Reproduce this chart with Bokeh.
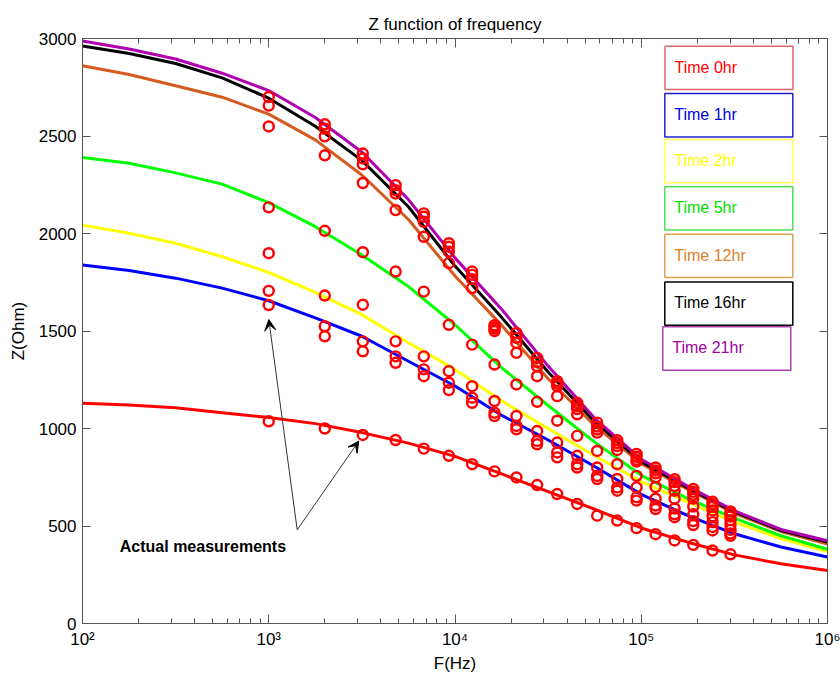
from bokeh.plotting import figure
from bokeh.models import (Range1d, FixedTicker, LinearAxis, LogAxis, Arrow, VeeHead,
                          Label, BoxAnnotation, CustomJSTickFormatter)
from bokeh.embed import file_html
from bokeh.resources import INLINE

# ---------------- data ----------------
curve_freq = [100, 178, 316, 562, 1000, 1778, 3162, 5623, 10000, 17783, 31623, 56234,
              100000, 177828, 316228, 562341, 1000000]
z_0hr = [1129, 1120, 1107, 1081, 1056, 1025, 979, 925, 857, 767, 676, 586, 490, 417, 352, 306, 272]
z_1hr = [1839, 1810, 1771, 1720, 1655, 1567, 1473, 1345, 1218, 1068, 941, 805, 662, 553, 460, 392, 341]
z_2hr = [2043, 2001, 1950, 1881, 1800, 1698, 1584, 1440, 1303, 1142, 1000, 860, 728, 622, 520, 436, 369]
z_5hr = [2390, 2360, 2311, 2253, 2158, 2035, 1890, 1728, 1532, 1312, 1118, 930, 760, 640, 540, 450, 381]
z_12hr = [2860, 2815, 2758, 2699, 2612, 2480, 2300, 2072, 1782, 1530, 1255, 1015, 820, 688, 565, 472, 408]
z_16hr = [2962, 2923, 2872, 2798, 2694, 2550, 2375, 2137, 1833, 1570, 1290, 1035, 830, 695, 572, 477, 418]
z_21hr = [2987, 2946, 2895, 2822, 2733, 2595, 2418, 2174, 1875, 1612, 1320, 1052, 842, 703, 578, 482, 424]

series_names = ["Time 0hr", "Time 1hr", "Time 2hr", "Time 5hr", "Time 12hr", "Time 16hr", "Time 21hr"]

meas_freq = [1000, 2000, 3200, 4800, 6800, 9270, 12360, 16300, 21370, 27600,
             35380, 45300, 58000, 74300, 94400, 119400, 151000, 190300, 241500, 301400]
meas_z = [
    [2700, 2656, 2549, 2134, 1899, 1706, 1633, 1037],
    [2560, 2537, 2498, 2401, 2014, 1682, 1524, 1473, 1000],
    [2410, 2385, 2355, 2259, 1904, 1635, 1447, 1396, 967],
    [2248, 2222, 2205, 2120, 1805, 1447, 1370, 1337, 941],
    [2103, 2086, 2060, 1983, 1702, 1370, 1303, 1268, 897],
    [1950, 1932, 1907, 1848, 1532, 1294, 1235, 1197, 860],
    [1805, 1788, 1766, 1720, 1430, 1217, 1158, 1132, 817],
    [1530, 1520, 1512, 1500, 1328, 1141, 1081, 1064, 780],
    [1490, 1465, 1439, 1388, 1226, 1064, 1013, 996, 749],
    [1362, 1340, 1319, 1268, 1137, 987, 936, 919, 710],
    [1243, 1230, 1217, 1166, 1040, 928, 877, 852, 664],
    [1132, 1115, 1100, 1073, 962, 860, 817, 800, 613],
    [1030, 1010, 995, 979, 885, 800, 757, 741, 553],
    [940, 925, 910, 890, 817, 741, 698, 681, 528],
    [870, 855, 840, 830, 757, 698, 647, 630, 489],
    [800, 785, 770, 750, 700, 640, 605, 587, 458],
    [740, 725, 705, 680, 640, 590, 560, 545, 426],
    [690, 675, 660, 640, 600, 560, 525, 505, 403],
    [625, 612, 598, 580, 550, 520, 495, 477, 374],
    [575, 562, 548, 530, 505, 480, 462, 450, 355],
]

y_ticks = [0, 500, 1000, 1500, 2000, 2500, 3000]
x_major = [100, 1000, 10000, 100000, 1000000]

# ---------------- styling ----------------
FONT = "Liberation Sans"
line_colors = ["#FF0000", "#0000FF", "#FFFF00", "#00FF00", "#D45A1E", "#000000", "#B000B0"]
text_colors = ["#FF0000", "#0000E0", "#FFFF00", "#00E000", "#D9822B", "#000000", "#A000A0"]
box_colors = ["#E06868", "#2020D0", "#FFFF50", "#50E050", "#E0A058", "#000000", "#B040B0"]

L, R, T, B = 82, 827, 38, 625  # frame pixel edges


def fx(px):
    return 10 ** (2 + (px - L) / (R - L) * 4)


def zy(py):
    return (B - py) / (B - T) * 3000


p = figure(width=840, height=675, x_axis_type="log",
           x_range=Range1d(100, 1000000), y_range=Range1d(0, 3000),
           output_backend="svg", toolbar_location=None,
           min_border_left=L, min_border_right=840 - R,
           min_border_top=T, min_border_bottom=675 - B)

p.title.text = "Z function of frequency"
p.title.align = "center"
p.title.text_font = FONT
p.title.text_font_size = "17px"
p.title.text_font_style = "normal"
p.title.text_color = "black"

p.xgrid.visible = False
p.ygrid.visible = False
p.outline_line_color = "#555555"
p.outline_line_width = 1
p.background_fill_color = "white"
p.border_fill_color = "white"

minor = [k * d for d in [100, 1000, 10000, 100000] for k in range(2, 10)]
xticker = FixedTicker(ticks=x_major, minor_ticks=minor)
yticker = FixedTicker(ticks=y_ticks)

sup_fmt = CustomJSTickFormatter(code="""
const e = Math.round(Math.log10(tick));
const sup = ['\u2070','\u00b9','\u00b2','\u00b3','\u2074','\u2075','\u2076'];
return '10' + sup[e];
""")


def style_axis(ax, show_labels=True):
    ax.axis_line_color = "#555555"
    ax.major_tick_line_color = "#555555"
    ax.minor_tick_line_color = "#555555"
    ax.major_tick_out = 0
    ax.minor_tick_out = 0
    ax.major_label_text_font = FONT
    ax.major_label_text_font_size = "17px" if show_labels else "1px"
    ax.major_label_text_color = "black"
    ax.axis_label_text_font = FONT
    ax.axis_label_text_font_size = "17px"
    ax.axis_label_text_font_style = "normal"
    ax.axis_label_text_color = "black"
    if not show_labels:
        ax.major_label_standoff = 0
        ax.major_label_text_alpha = 0


xa = p.xaxis[0]
xa.ticker = xticker
xa.formatter = sup_fmt
style_axis(xa)
xa.major_tick_in = 9
xa.minor_tick_in = 5
xa.major_label_standoff = 6
xa.axis_label = "F(Hz)"
xa.axis_label_standoff = 2

ya = p.yaxis[0]
ya.ticker = yticker
style_axis(ya)
ya.major_tick_in = 8
ya.minor_tick_line_color = None
ya.major_label_standoff = 6
ya.axis_label = "Z(Ohm)"
ya.axis_label_standoff = 8

top = LogAxis(ticker=xticker)
style_axis(top, False)
top.major_tick_in = 9
top.minor_tick_in = 5
p.add_layout(top, "above")

right = LinearAxis(ticker=yticker)
style_axis(right, False)
right.major_tick_in = 8
right.minor_tick_line_color = None
p.add_layout(right, "right")

# fitted curves
curves = [z_0hr, z_1hr, z_2hr, z_5hr, z_12hr, z_16hr, z_21hr]
for zs, c in zip(curves, line_colors):
    p.line(curve_freq, zs, line_color=c, line_width=3, line_join="round")

# measurements
mx, my = [], []
for f, zs in zip(meas_freq, meas_z):
    for z in zs:
        mx.append(f)
        my.append(z)
p.scatter(mx, my, marker="circle", size=10, fill_color=None,
          line_color="#FF0000", line_width=2.4)

# legend-like text boxes
box_tops = [45.7, 93.3, 139.3, 186.7, 234.3, 282.3, 327.3]
box_lefts = [664.5, 664.3, 664.3, 664.3, 664.3, 664.3, 662.3]
for i, name in enumerate(series_names):
    t = box_tops[i]
    lft = box_lefts[i]
    p.add_layout(BoxAnnotation(left=fx(lft), right=fx(lft + 128), top=zy(t), bottom=zy(t + 43.5),
                               fill_alpha=0, line_color=box_colors[i], line_alpha=1,
                               line_width=1.5))
    p.add_layout(Label(x=fx(lft + 9.5), y=zy(t + 21), text=name, text_font=FONT,
                       text_font_size="16px", text_color=text_colors[i],
                       text_baseline="alphabetic", text_align="left"))

# annotation
p.add_layout(Label(x=fx(119.3), y=zy(548), text="Actual measurements", text_font=FONT,
                   text_font_size="16px", text_font_style="bold", text_color="black",
                   text_baseline="alphabetic", text_align="left"))
for tip in [(268.3, 320), (358.3, 442)]:
    p.add_layout(Arrow(x_start=fx(296.7), y_start=zy(531), x_end=fx(tip[0]), y_end=zy(tip[1]),
                       line_color="#333333", line_width=1,
                       end=VeeHead(size=11, fill_color="black", line_color="black", line_width=1)))

open("out.html", "w").write(file_html(p, INLINE))
